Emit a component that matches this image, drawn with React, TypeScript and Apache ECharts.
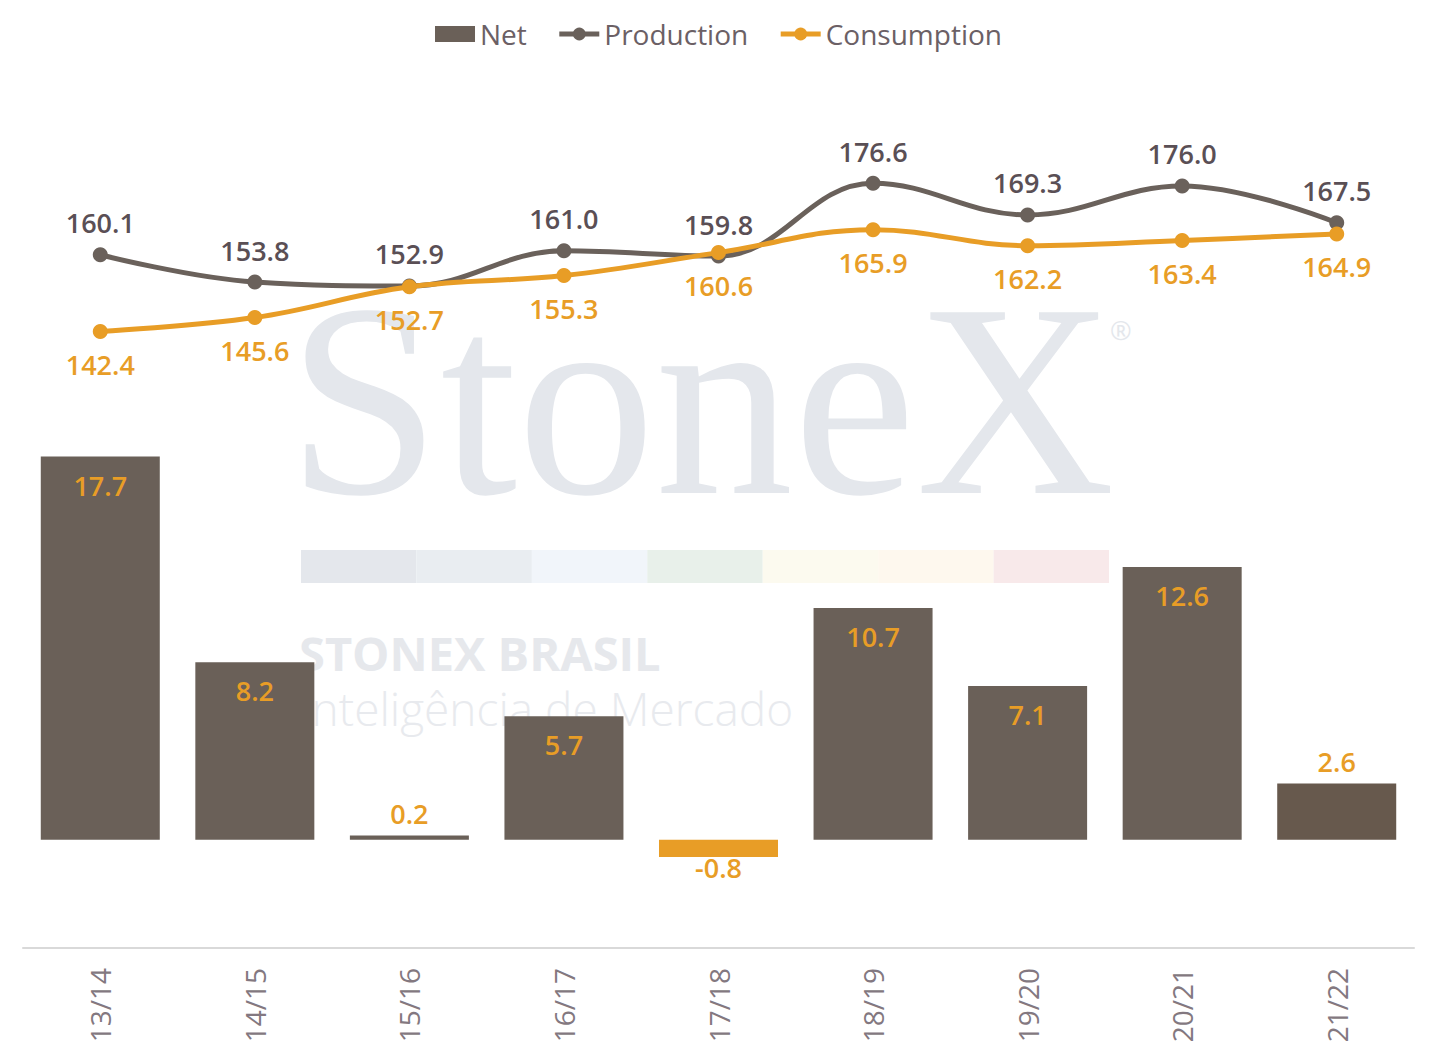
import React, { useEffect, useRef } from "react";
import * as echarts from "echarts";

const categories = ["13/14", "14/15", "15/16", "16/17", "17/18", "18/19", "19/20", "20/21", "21/22"];
const netValues = [17.7, 8.2, 0.2, 5.7, -0.8, 10.7, 7.1, 12.6, 2.6];
const productionValues = [160.1, 153.8, 152.9, 161.0, 159.8, 176.6, 169.3, 176.0, 167.5];
const consumptionValues = [142.4, 145.6, 152.7, 155.3, 160.6, 165.9, 162.2, 163.4, 164.9];
const stripColors = ["#E4E7EC", "#E9EDF1", "#F1F5FA", "#E8F0EA", "#FCFAEF", "#FEF8EE", "#F8E9EA"];

const FONT = "'Open Sans', sans-serif";
const BAR = "#6A6058";
const BAR_LAST = "#67594D";
const ORANGE = "#E89D26";
const PROD = "#6A615B";
const PROD_LABEL = "#5A4F55";

export default function App() {
  const ref = useRef<HTMLDivElement>(null);
  useEffect(() => {
    if (!ref.current) return;
    const chart = echarts.init(ref.current, undefined, { renderer: "svg" });

    const barData = netValues.map((v, i) => {
      const small = Math.abs(v) < 3;
      const neg = v < 0;
      return {
        value: v,
        itemStyle: { color: neg ? ORANGE : i === netValues.length - 1 ? BAR_LAST : BAR },
        label: {
          show: true,
          position: neg ? "bottom" : small ? "top" : "insideTop",
          distance: neg ? -3 : small ? 8 : 15,
        },
      };
    });

    const stripW = 808 / stripColors.length;
    const graphics: any[] = [
      {
        type: "text",
        x: 287,
        y: 400,
        z: -10,
        silent: true,
        style: {
          text: "StoneX",
          fontFamily: "'Liberation Serif', serif",
          fontSize: 276,
          lineHeight: 180,
          fill: "#E4E7EC",
          verticalAlign: "middle",
          align: "left",
        },
      },
      {
        type: "text",
        x: 1110,
        y: 330,
        z: -10,
        silent: true,
        style: { text: "®", fontFamily: FONT, fontSize: 26, fill: "#E4E7EC", verticalAlign: "middle" },
      },
      ...stripColors.map((c, i) => ({
        type: "rect",
        z: -10,
        silent: true,
        shape: { x: 301 + i * stripW, y: 550, width: stripW, height: 33 },
        style: { fill: c },
      })),
      {
        type: "text",
        x: 299,
        y: 653,
        z: -10,
        silent: true,
        style: {
          text: "STONEX BRASIL",
          fontFamily: FONT,
          fontWeight: "bold",
          fontSize: 47,
          lineHeight: 36,
          fill: "#E6E8EC",
          verticalAlign: "middle",
        },
      },
      {
        type: "text",
        x: 300,
        y: 708,
        z: -10,
        silent: true,
        style: {
          text: "Inteligência de Mercado",
          fontFamily: FONT,
          fontWeight: 300,
          fontSize: 46,
          lineHeight: 36,
          fill: "#E8EAEE",
          verticalAlign: "middle",
        },
      },
    ];

    const labelFmt = (p: any) => Number(p.value).toFixed(1);

    chart.setOption({
      animation: false,
      backgroundColor: "#FFFFFF",
      textStyle: { fontFamily: FONT },
      graphic: graphics,
      legend: {
        top: 15,
        left: "center",
        itemWidth: 40,
        itemHeight: 16,
        itemGap: 30,
        textStyle: { fontSize: 28, color: "#6B6065", fontFamily: FONT },
        data: [
          { name: "Net", icon: "rect", itemStyle: { color: BAR } },
          { name: "Production", lineStyle: { width: 5, color: PROD }, itemStyle: { color: PROD } },
          { name: "Consumption", lineStyle: { width: 5, color: ORANGE }, itemStyle: { color: ORANGE } },
        ],
      },
      grid: { left: 23, right: 23, top: 82, bottom: 112, containLabel: false },
      xAxis: {
        type: "category",
        data: categories,
        axisLine: { onZero: false, lineStyle: { color: "#D9D9D9", width: 2 } },
        axisTick: { show: false },
        axisLabel: { rotate: 90, margin: 20, fontSize: 28, color: "#837880", fontFamily: FONT },
      },
      yAxis: [
        { type: "value", min: -5, max: 35, show: false, splitLine: { show: false } },
        { type: "value", min: 0, max: 200, show: false, splitLine: { show: false } },
      ],
      series: [
        {
          name: "Net",
          type: "bar",
          yAxisIndex: 0,
          barCategoryGap: "23%",
          data: barData,
          itemStyle: { color: BAR },
          label: { show: true, color: ORANGE, fontSize: 27, fontWeight: 600, fontFamily: FONT, formatter: labelFmt },
        },
        {
          name: "Production",
          type: "line",
          yAxisIndex: 1,
          smooth: 0.4,
          data: productionValues,
          symbol: "circle",
          symbolSize: 15,
          lineStyle: { color: PROD, width: 5 },
          itemStyle: { color: PROD },
          label: {
            show: true,
            position: "top",
            distance: 11,
            color: PROD_LABEL,
            fontSize: 27,
            fontWeight: 600,
            fontFamily: FONT,
            formatter: labelFmt,
          },
          z: 3,
        },
        {
          name: "Consumption",
          type: "line",
          yAxisIndex: 1,
          smooth: 0.4,
          data: consumptionValues,
          symbol: "circle",
          symbolSize: 15,
          lineStyle: { color: ORANGE, width: 5 },
          itemStyle: { color: ORANGE },
          label: {
            show: true,
            position: "bottom",
            distance: 12,
            color: ORANGE,
            fontSize: 27,
            fontWeight: 600,
            fontFamily: FONT,
            formatter: labelFmt,
          },
          z: 4,
        },
      ],
    });
    return () => chart.dispose();
  }, []);

  return (
    <div
      ref={ref}
      style={{ position: "fixed", left: 0, top: 0, width: 1437, height: 1060, background: "#fff" }}
    />
  );
}
